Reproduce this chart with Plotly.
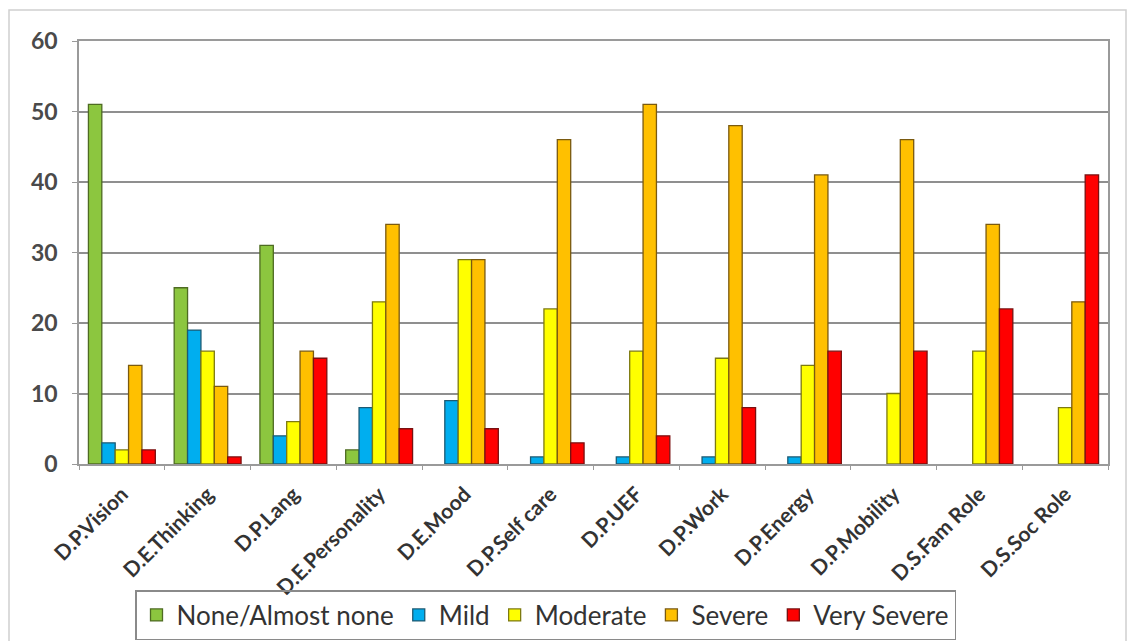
import plotly.graph_objects as go

categories = ["D.P.Vision", "D.E.Thinking", "D.P.Lang", "D.E.Personality", "D.E.Mood",
              "D.P.Self care", "D.P.UEF", "D.P.Work", "D.P.Energy", "D.P.Mobility",
              "D.S.Fam Role", "D.S.Soc Role"]

none_almost = [51, 25, 31, 2, None, None, None, None, None, None, None, None]
mild = [3, 19, 4, 8, 9, 1, 1, 1, 1, None, None, None]
moderate = [2, 16, 6, 23, 29, 22, 16, 15, 14, 10, 16, 8]
severe = [14, 11, 16, 34, 29, 46, 51, 48, 41, 46, 34, 23]
very_severe = [2, 1, 15, 5, 5, 3, 4, 8, 16, 16, 22, 41]

series = [
    ("None/Almost none", none_almost, "#8cc63f", "#4e6b22"),
    ("Mild", mild, "#00aeef", "#1c5a73"),
    ("Moderate", moderate, "#ffff00", "#7d7a10"),
    ("Severe", severe, "#ffc000", "#7a5a10"),
    ("Very Severe", very_severe, "#ff0000", "#7a1010"),
]

FONT = "Lato"

fig = go.Figure()
for name, vals, col, edge in series:
    fig.add_trace(go.Bar(
        x=categories, y=vals, name=name,
        marker=dict(color=col, line=dict(color=edge, width=1.3)),
    ))

# plot area: x 79..1108, y 41..464
W, H = 1130, 641
L, R, T, B = 79, 1108, 41, 464
pw, ph = R - L, B - T

def px_x(p):
    return (p - L) / pw

def px_y(p):
    return (B - p) / ph

fig.update_layout(
    width=W, height=H,
    margin=dict(l=L, r=W - R, t=T, b=H - B, autoexpand=False),
    paper_bgcolor="white", plot_bgcolor="white",
    barmode="group", bargap=0.22, bargroupgap=0,
    font=dict(family=FONT, color="#404040"),
    showlegend=True,
    legend=dict(
        orientation="h", x=px_x(135), y=px_y(590), xanchor="left", yanchor="top",
        font=dict(family=FONT, size=26, color="#333333"),
        bordercolor="#8a8a8a", borderwidth=1.5, bgcolor="rgba(255,255,255,0)",
        traceorder="normal", itemwidth=30,
    ),
    shapes=[dict(type="rect", xref="paper", yref="paper",
                 x0=px_x(9), x1=px_x(1126), y0=px_y(660), y1=px_y(10),
                 line=dict(color="#d0d0d0", width=1.5), layer="below")],
)

fig.update_xaxes(
    type="category", tickangle=-45, automargin=False,
    tickfont=dict(family=FONT, size=21, color="#333333", weight="bold"),
    showline=True, linecolor="#9a9a9a", linewidth=1.5, mirror=True,
    ticks="outside", ticklen=4, tickcolor="#9a9a9a", tickson="boundaries",
    showgrid=False, ticklabelstandoff=8, ticklabelshift=0,
)
fig.update_yaxes(
    range=[0, 60], dtick=10, tick0=0, automargin=False,
    tickfont=dict(family=FONT, size=23, color="#4a4a4a", weight="bold"),
    showline=True, linecolor="#9a9a9a", linewidth=1.5, mirror=True,
    ticks="outside", ticklen=5, tickcolor="#9a9a9a", ticklabelstandoff=10,
    showgrid=True, gridcolor="#8f8f8f", gridwidth=1.5,
    zeroline=False,
)

fig.write_html("out.html")
